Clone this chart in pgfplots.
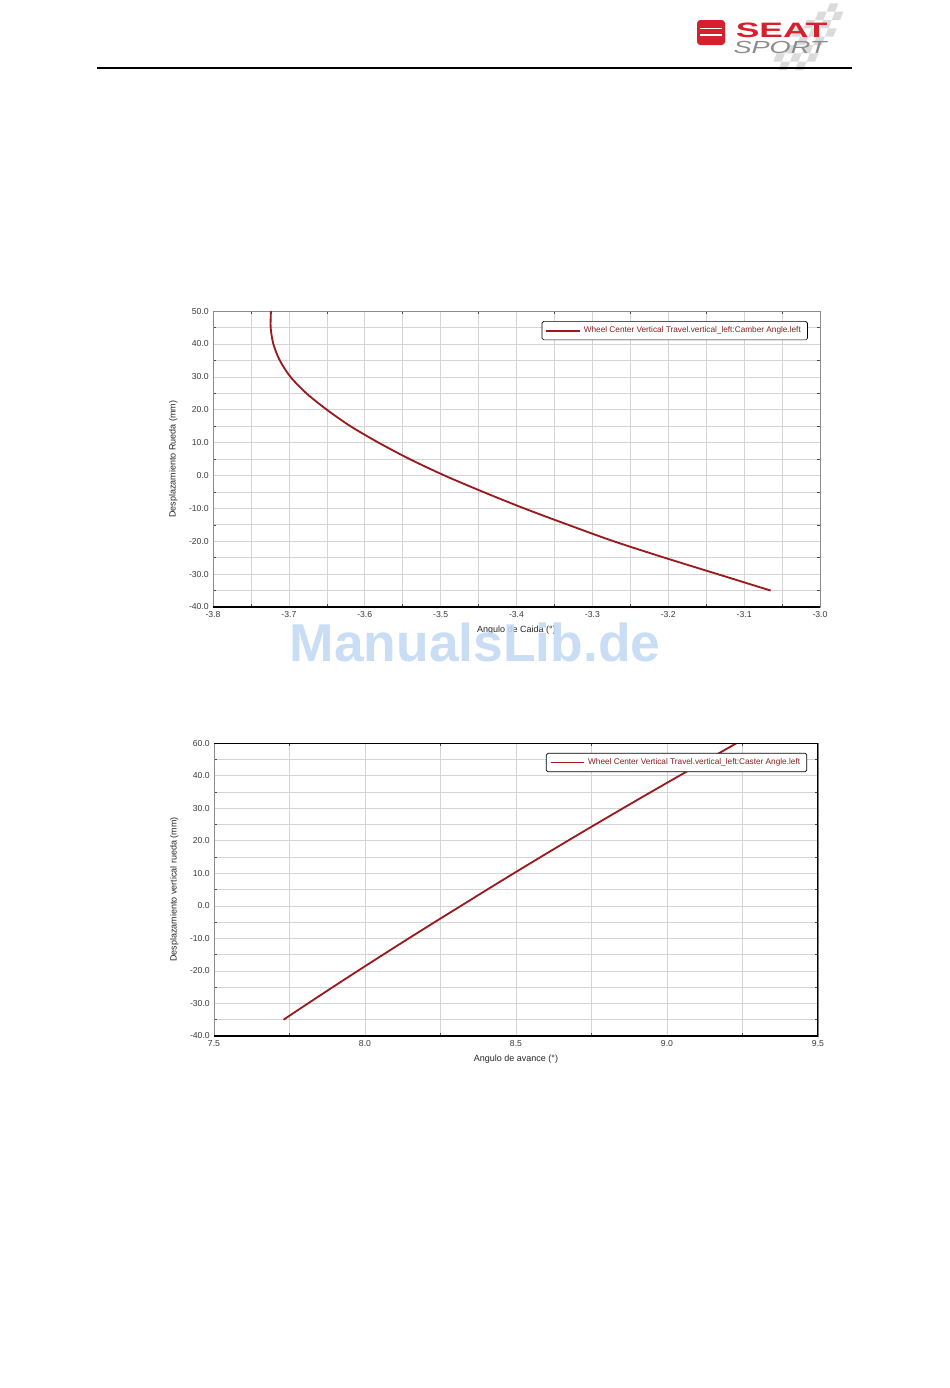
\documentclass[border=0pt]{standalone}
\usepackage{pgfplots}
\pgfplotsset{compat=1.18}
\usepackage{fontspec}
\setmainfont{Liberation Sans}
\definecolor{curvered}{RGB}{155,26,30}
\definecolor{legred}{RGB}{140,30,35}
\definecolor{seatred}{RGB}{214,32,45}
\definecolor{wmblue}{RGB}{196,218,245}
\definecolor{gridgray}{RGB}{212,212,212}
\definecolor{ticktext}{RGB}{60,60,60}

\pgfplotstableread{
x y
-3.065 -35
-3.135 -30
-3.205 -25
-3.272 -20
-3.332 -15
-3.390 -10
-3.444 -5
-3.495 0
-3.541 5
-3.582 10
-3.619 15
-3.650 20
-3.677 25
-3.698 30
-3.712 35
-3.7205 40
-3.724 45
-3.7236 50
}\camber

\pgfplotstableread{
x y
7.730 -35
7.811 -30
7.893 -25
7.976 -20
8.060 -15
8.145 -10
8.231 -5
8.318 0
8.405 5
8.493 10
8.582 15
8.672 20
8.763 25
8.855 30
8.948 35
9.042 40
9.137 45
9.231 50
}\caster

\pgfplotsset{
  myaxis/.style={
    scale only axis,
    font=\fontsize{5.2}{6}\selectfont,
    grid=both,
    major grid style={draw=gridgray, line width=0.35pt},
    minor grid style={draw=gridgray, line width=0.35pt},
    axis line style={draw=black!45, line width=0.4pt},
    tick style={draw=black!70, line width=0.3pt},
    tick align=inside,
    major tick length=0pt,
    minor tick length=2pt,
    ymin=-40, ymax=50,
    ytick={-40,-30,...,50},
    minor y tick num=1,
    ticklabel style={text=ticktext},
    xticklabel style={yshift=1pt},
    yticklabel style={xshift=1pt},
    label style={font=\fontsize{5.4}{6}\selectfont, text=black!85},
    legend cell align=left,
    legend image code/.code={\draw[#1, line width=1.1pt] (0pt,0pt) -- (20pt,0pt);},
    legend style={draw=black, line width=0.4pt, rounded corners=1pt, fill=white,
      font=\fontsize{4.95}{6}\selectfont, text=legred, inner sep=1pt,
      inner xsep=2pt, anchor=north east, at={(rel axis cs:0.98,0.966)}},
  }
}

\begin{document}
\begin{tikzpicture}
% page
\path[fill=white] (0pt,0pt) rectangle (570pt,-832.8pt);

% checkered flag decoration
\begin{scope}[shift={(478pt,-2pt)}, xslant=0.4]
  \foreach \i/\j in {4/0,5/1,3/1,4/2,2/2,3/3,5/3,1/3,2/4,4/4,3/5,1/5,2/6,0/6,4/6,3/7,1/7}{
    \fill[black!14] (\i*5pt,-\j*5pt) rectangle ++(5pt,-5pt);
  }
\end{scope}

% header rule
\draw[black, line width=0.9pt] (58.2pt,-40.8pt) -- (511.2pt,-40.8pt);

% SEAT emblem
\fill[seatred, rounded corners=2pt] (418.2pt,-12pt) rectangle (435pt,-27pt);
\fill[white] (420pt,-16.5pt) rectangle (433pt,-17.5pt);
\fill[white] (420pt,-20.5pt) rectangle (433pt,-21.5pt);
\node[text=seatred, font=\bfseries\fontsize{12.5}{13}\selectfont, inner sep=0pt] at (469pt,-18pt) {\scalebox{1.7}[1]{SEAT}};
\node[text=black!45, font=\itshape\fontsize{10.5}{11}\selectfont, inner sep=0pt] at (468pt,-28.4pt) {\scalebox{1.55}[1]{SPORT}};

% ---------- Plot 1: camber ----------
\begin{axis}[myaxis,
  at={(127.8pt,-364.2pt)}, anchor=south west,
  width=364.2pt, height=177.6pt,
  xmin=-3.8, xmax=-3.0,
  xtick={-3.8,-3.7,-3.6,-3.5,-3.4,-3.3,-3.2,-3.1,-3.0},
  xticklabels={-3.8,-3.7,-3.6,-3.5,-3.4,-3.3,-3.2,-3.1,-3.0},
  minor x tick num=1,
  yticklabels={-40.0,-30.0,-20.0,-10.0,0.0,10.0,20.0,30.0,40.0,50.0},
  xlabel={Angulo de Caida (°)},
  ylabel={Desplazamiento Rueda (mm)},
  xlabel style={yshift=2pt},
  ylabel style={yshift=0pt},
]
\addplot[curvered, line width=1.1pt, smooth] table[x=x, y=y] {\camber};
\addlegendentry{Wheel Center Vertical Travel.vertical\_left:Camber Angle.left}
\draw[black, line width=0.7pt] (rel axis cs:0,0) -- (rel axis cs:1,0);
\end{axis}

% ---------- Plot 2: caster ----------
\begin{axis}[myaxis,
  at={(128.4pt,-621.6pt)}, anchor=south west,
  width=362.4pt, height=175.8pt,
  xmin=7.5, xmax=9.5,
  xtick={7.5,8.0,8.5,9.0,9.5},
  xticklabels={7.5,8.0,8.5,9.0,9.5},
  minor x tick num=1,
  yticklabels={-40.0,-30.0,-20.0,-10.0,0.0,10.0,20.0,30.0,40.0,60.0},
  xlabel={Angulo de avance (°)},
  ylabel={Desplazamiento vertical rueda (mm)},
  xlabel style={yshift=2pt},
  ylabel style={yshift=0pt},
  legend style={at={(rel axis cs:0.982,0.966)}},
]
\addplot[curvered, line width=1.1pt, smooth] table[x=x, y=y] {\caster};
\addlegendentry{Wheel Center Vertical Travel.vertical\_left:Caster Angle.left}
\draw[black, line width=0.7pt] (rel axis cs:0,0) -- (rel axis cs:1,0) -- (rel axis cs:1,1) -- (rel axis cs:0,1);
\end{axis}

% watermark
\node[text=wmblue, font=\bfseries\fontsize{32}{34}\selectfont, inner sep=0pt, opacity=0.9] at (285pt,-385.5pt) {ManualsLib.de};
\end{tikzpicture}
\end{document}
